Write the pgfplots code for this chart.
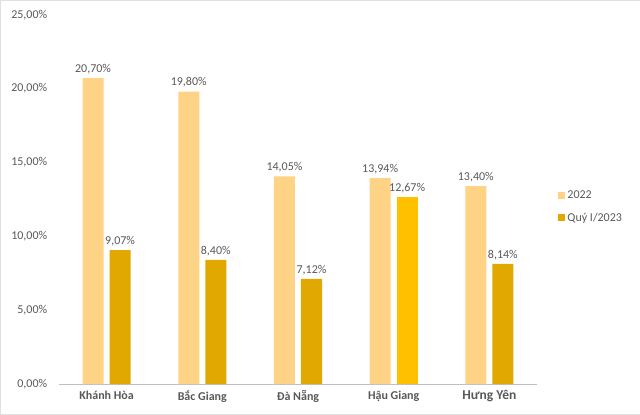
\documentclass[border=0pt]{standalone}
\usepackage{pgfplots}
\pgfplotsset{compat=1.18}
\usepackage{fontspec}
\setmainfont{Carlito}
\definecolor{light}{HTML}{FFD386}
\definecolor{gold}{HTML}{E0A800}
\definecolor{amber}{HTML}{FFC000}
\definecolor{txt}{HTML}{595959}
\begin{document}
\begin{tikzpicture}[x=1pt,y=1pt]
\path[draw=black!12,fill=white] (0.5,0.5) rectangle (639.5,414.5);
\begin{axis}[
    at={(59pt,31pt)}, anchor=south west,
    scale only axis, width=478pt, height=369pt,
    ymin=0, ymax=25, xmin=-0.5, xmax=4.5,
    axis y line=none, axis x line*=bottom,
    axis line style={black!25},
    xtick={0,...,4},
    xticklabels={Khánh Hòa,Bắc Giang,Đà Nẵng,Hậu Giang,{\fontsize{13.5}{15}\selectfont Hưng Yên}},
    xticklabel style={font=\fontsize{12}{14}\selectfont\bfseries, text=txt, yshift=-3pt},
    major tick length=0pt,
    /pgf/number format/assume math mode=true,
    bar width=21pt,
    ybar,
    nodes near coords={\pgfmathprintnumber[fixed,fixed zerofill,precision=2,use comma]{\pgfplotspointmeta}\%},
    nodes near coords style={font=\fontsize{12}{14}\selectfont, text=txt, inner sep=4pt},
    legend style={at={(axis description cs:1,0.48)}, anchor=west, xshift=18pt, draw=none,
        font=\fontsize{12}{14}\selectfont, text=txt, row sep=9pt, fill=none},
    legend cell align=left,
    legend image code/.code={\fill[#1,draw=none] (0pt,-3.5pt) rectangle (7pt,3.5pt);},
]
\addplot[fill=light, draw=none, bar shift=-13.5pt] coordinates {(0,20.70) (1,19.80) (2,14.05) (3,13.94) (4,13.40)};
\addlegendentry{2022}
\addplot[fill=gold, draw=none, bar shift=13.5pt] coordinates {(0,9.07) (1,8.40) (2,7.12) (4,8.14)};
\addlegendentry{Quý I/2023}
\addplot[fill=amber, draw=none, bar shift=13.5pt, forget plot] coordinates {(3,12.67)};
\end{axis}
\begin{axis}[
    at={(59pt,31pt)}, anchor=south west,
    scale only axis, width=478pt, height=369pt,
    ymin=0, ymax=25, xmin=-0.5, xmax=4.5,
    axis x line=none, axis y line*=left, y axis line style={draw=none},
    ytick={0,5,...,25}, major tick length=0pt,
    yticklabel={\pgfmathprintnumber[fixed,fixed zerofill,precision=2,use comma]{\tick}\%},
    yticklabel style={font=\fontsize{12}{14}\selectfont, text=txt, xshift=-8pt},
    /pgf/number format/assume math mode=true,
]
\end{axis}
\end{tikzpicture}
\end{document}
